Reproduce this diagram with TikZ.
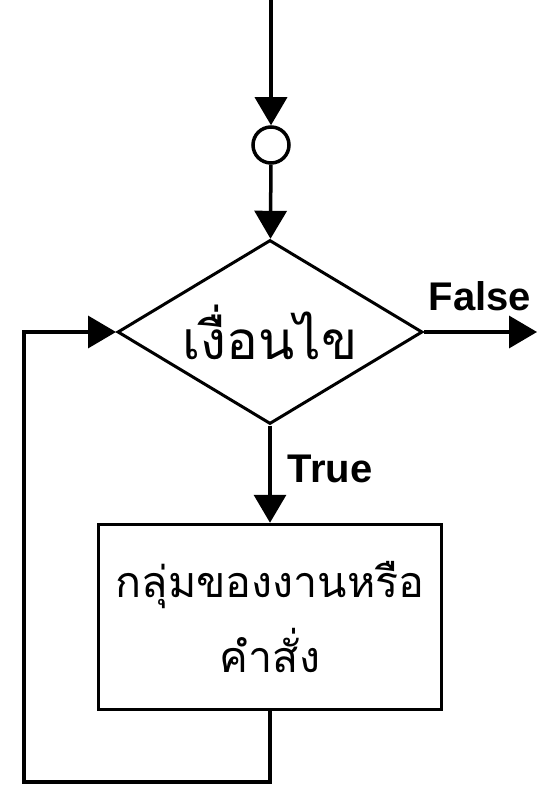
\documentclass[tikz,border=0pt]{standalone}
\usepackage{fontspec}
\setmainfont{Liberation Sans}
\newfontfamily\thaifont[Script=Thai]{Loma}
\usetikzlibrary{shapes.geometric,arrows.meta}

\tikzset{
  flow/.style={line width=3.5pt, line join=miter},
  tip/.style={-{Triangle[length=28pt,width=32pt]}},
  junction/.style={circle, draw, line width=3.5pt, minimum size=36pt, inner sep=0pt},
  decision/.style={diamond, draw, line width=3pt, aspect=1.66, inner sep=0pt,
    minimum width=305pt, minimum height=184pt,
    font=\thaifont\fontsize{53}{53}\selectfont},
  process/.style={rectangle, draw, line width=3.5pt, minimum width=343pt,
    minimum height=185pt, align=center,
    font=\thaifont\fontsize{43}{75}\selectfont},
  branch/.style={font=\bfseries\fontsize{40}{40}\selectfont}
}

\begin{document}
\begin{tikzpicture}[x=1pt,y=-1pt]
        \useasboundingbox (0,0) rectangle (537,786);

        \coordinate (top) at (271,0);
        \node[junction] (junc) at (271,145) {};
        \node[decision] (cond) at (270,332) {เงื่อนไข};
        \node[process] (body) at (270,617) {กลุ่มของงานหรือ\\คำสั่ง};

        \node[branch] (flab) at (480,296) {False};
        \node[branch] (tlab) at (330,469) {True};

        \coordinate (out) at (537,332);
        \coordinate (back1) at (270,782);
        \coordinate (back2) at (24,782);
        \coordinate (back3) at (24,332);

        \draw[flow,tip] (top) -- (junc);
        \draw[flow,tip] (junc) -- (cond);
        \draw[flow,tip] (cond.east) -- (out);
        \draw[flow,tip] (cond.south) -- (body.north);
        \draw[flow,tip] (body.south) -- (back1) -- (back2) -- (back3) -- (cond.west);
\end{tikzpicture}
\end{document}
